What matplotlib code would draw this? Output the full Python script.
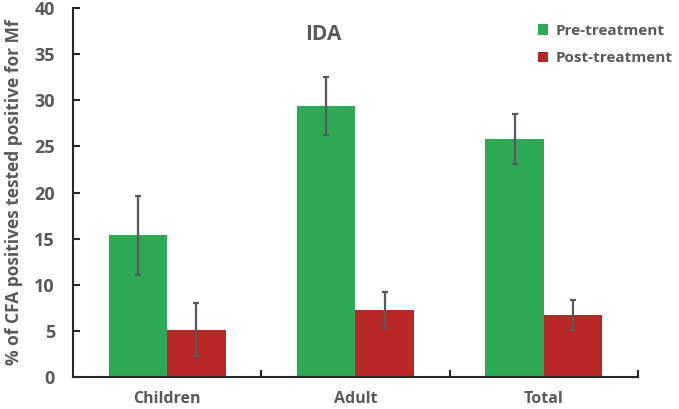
import matplotlib
matplotlib.use("Agg")
import matplotlib.pyplot as plt
import numpy as np

categories = ["Children", "Adult", "Total"]
pre_values = [15.35, 29.36, 25.86]
pre_err_low = [11.05, 26.2, 23.15]
pre_err_high = [19.64, 32.5, 28.5]
post_values = [5.13, 7.26, 6.75]
post_err_low = [2.24, 5.27, 5.09]
post_err_high = [7.98, 9.18, 8.37]
series_names = ["Pre-treatment", "Post-treatment"]
yticks = [0, 5, 10, 15, 20, 25, 30, 35, 40]

plt.rcParams['font.family'] = ['Open Sans', 'DejaVu Sans']
gray = '#595959'
green = '#2EAA57'
red = '#B92626'

fig = plt.figure(figsize=(6.79, 4.09), dpi=100)
ax = fig.add_axes([0.1075, 0.0782, 0.832, 0.902])

x = np.arange(len(categories))
w = 0.31
pre = np.array(pre_values); post = np.array(post_values)
pre_yerr = [pre - np.array(pre_err_low), np.array(pre_err_high) - pre]
post_yerr = [post - np.array(post_err_low), np.array(post_err_high) - post]
ax.bar(x - w/2, pre, w, color=green, label=series_names[0], zorder=2)
ax.bar(x + w/2, post, w, color=red, label=series_names[1], zorder=2)
ax.errorbar(x - w/2, pre, yerr=pre_yerr, fmt='none', ecolor=gray, elinewidth=1.6, capsize=2.5, capthick=1.6, zorder=3)
ax.errorbar(x + w/2, post, yerr=post_yerr, fmt='none', ecolor=gray, elinewidth=1.6, capsize=2.5, capthick=1.6, zorder=3)

ax.set_xlim(-0.5, 2.5)
ax.set_ylim(0, 40)
ax.set_yticks(yticks)
ax.set_yticklabels([str(t) for t in yticks], fontsize=13, fontweight='bold', color=gray)
ax.set_xticks(x)
ax.set_xticklabels(categories, fontsize=11.5, fontweight='bold', color=gray)
ax.tick_params(axis='x', which='major', length=0, pad=10)
ax.set_xticks([0.5, 1.5, 2.5], minor=True)
ax.tick_params(axis='x', which='minor', direction='in', length=5, width=1.5, color='#262626')
ax.tick_params(axis='y', direction='in', length=5, width=1.5, color='#262626', pad=13)

for s in ['top', 'right']:
    ax.spines[s].set_visible(False)
for s in ['left', 'bottom']:
    ax.spines[s].set_linewidth(1.5)
    ax.spines[s].set_color('#262626')

ax.set_ylabel("% of CFA positives tested positive for Mf", fontsize=12.5, fontweight='bold', color=gray, labelpad=8)
fig.text(323/679, 1 - 35/409, "IDA", fontsize=15, fontweight='bold', color=gray, ha='center', va='center')

leg = ax.legend(loc='upper right', bbox_to_anchor=(1.085, 0.995), frameon=False,
                prop={'weight': 'bold', 'size': 11}, handlelength=0.7, handleheight=0.7,
                handletextpad=0.45, labelspacing=0.9)
for t in leg.get_texts():
    t.set_color(gray)

fig.savefig("out.png", dpi=100)
